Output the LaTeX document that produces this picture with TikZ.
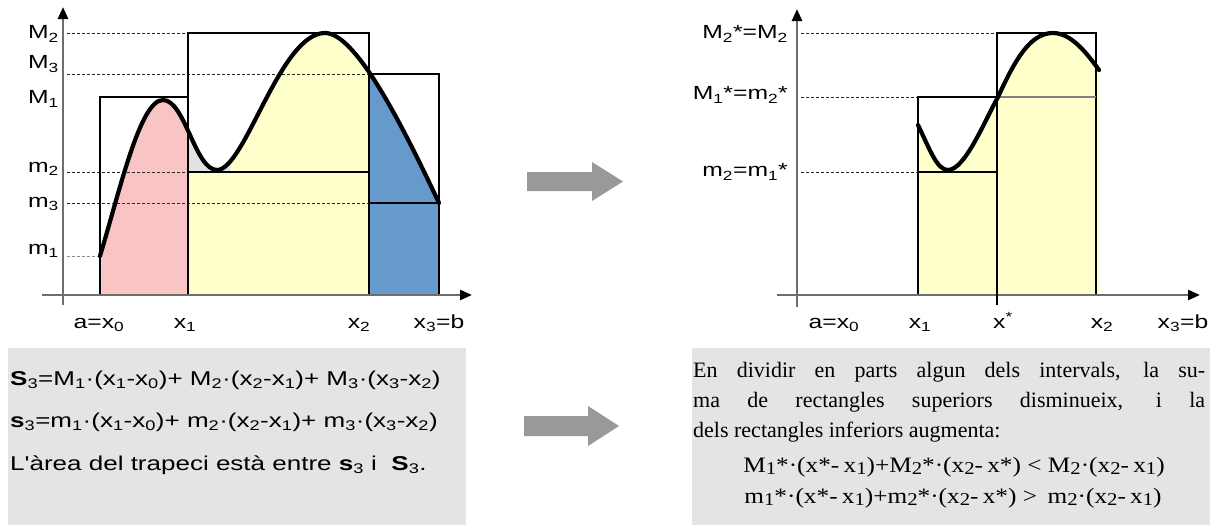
\documentclass[tikz,border=0pt]{standalone}
\usepackage{fontspec}
\setmainfont{Liberation Serif}
\newfontfamily\labfont[FakeStretch=1.3]{Liberation Sans}
\newfontfamily\txtfont{Liberation Serif}
\usetikzlibrary{arrows.meta}
\definecolor{pinkf}{HTML}{F8C4C4}
\definecolor{yellowf}{HTML}{FFFFCC}
\definecolor{bluef}{HTML}{6699CC}
\definecolor{grayf}{HTML}{E2E2E2}
\definecolor{boxf}{HTML}{E4E4E4}
\definecolor{arrowc}{HTML}{999999}
\definecolor{axisc}{HTML}{6E6E6E}
\def\leftcurve{(100,256) .. controls (120,190) and (140,100) .. (163,100) .. controls (185,100) and (195,170) .. (217,170) .. controls (245,170) and (280,33) .. (325,33) .. controls (355,33) and (400,120) .. (439,203)}
\def\rightcurve{(918,125) .. controls (930,150) and (937,170) .. (948,170) .. controls (965,170) and (985,120) .. (998,97) .. controls (1015,60) and (1030,33) .. (1053,33) .. controls (1072,33) and (1088,55) .. (1099,70)}
\newcommand\lowsub[1]{\raisebox{-0.25ex}{\fontsize{18}{20}\selectfont #1}}
\tikzset{
  axis/.style={draw=axisc, line width=2.6pt, -{Triangle[length=12pt,width=10pt,color=black]}},
  rectline/.style={draw=black, line width=1.8pt},
  dashline/.style={draw=black!85, line width=1pt, dash pattern=on 3pt off 2pt},
  curve/.style={draw=black, line width=4.2pt, line cap=round},
  lab/.style={font=\labfont\fontsize{19}{22}\selectfont, inner sep=0pt},
  boxtext/.style={font=\labfont\fontsize{20}{24}\selectfont, inner sep=0pt, anchor=base west},
  sertext/.style={font=\txtfont\fontsize{22}{26}\selectfont, inner sep=0pt},
  bigarrow/.style={fill=arrowc}
}
\begin{document}
\begin{tikzpicture}[x=1pt,y=-1pt]
\useasboundingbox (0,0) rectangle (1210,525);
% ---------- left plot ----------
\begin{scope}
  \clip (100,0) rectangle (188,295);
  \fill[pinkf] \leftcurve -- (439,295) -- (100,295) -- cycle;
\end{scope}
\begin{scope}
  \clip (188,0) rectangle (369,295);
  \fill[yellowf] \leftcurve -- (439,295) -- (100,295) -- cycle;
\end{scope}
\begin{scope}
  \clip (188,140) rectangle (230,172);
  \fill[grayf] \leftcurve -- (439,295) -- (100,295) -- cycle;
\end{scope}
\begin{scope}
  \clip (369,0) rectangle (439,295);
  \fill[bluef] \leftcurve -- (439,295) -- (100,295) -- cycle;
\end{scope}
% dashed guide lines
\draw[dashline] (67,33) -- (188,33);
\draw[dashline] (67,74) -- (369,74);
\draw[dashline] (67,172) -- (188,172);
\draw[dashline] (67,203) -- (369,203);
\draw[dashline, draw=black!45] (67,256) -- (100,256);
% rectangles
\draw[rectline] (100,295) rectangle (188,97);
\draw[rectline] (188,295) rectangle (369,33);
\draw[rectline] (369,295) rectangle (439,74);
\draw[rectline] (188,172) -- (369,172);
\draw[rectline] (369,203) -- (439,203);
% axes
\draw[axis] (42,295) -- (472,295);
\draw[axis] (63,305) -- (63,7);
% curve
\draw[curve] \leftcurve;
% labels
\node[lab, anchor=east] (lM2) at (59,34) {M\textsubscript{2}};
\node[lab, anchor=east] (lM3) at (59,64) {M\textsubscript{3}};
\node[lab, anchor=east] (lM1) at (59,99) {M\textsubscript{1}};
\node[lab, anchor=east] (lm2) at (59,169) {m\textsubscript{2}};
\node[lab, anchor=east] (lm3) at (59,204) {m\textsubscript{3}};
\node[lab, anchor=east] (lm1) at (59,251) {m\textsubscript{1}};
\node[lab, anchor=base] (lx0) at (99,328) {a=x\textsubscript{0}};
\node[lab, anchor=base] (lx1) at (185,328) {x\textsubscript{1}};
\node[lab, anchor=base] (lx2) at (359,328) {x\textsubscript{2}};
\node[lab, anchor=base] (lx3) at (439,328) {x\textsubscript{3}=b};
% ---------- right plot ----------
\fill[yellowf] \rightcurve -- (1099,295) -- (918,295) -- cycle;
\draw[dashline] (801,33) -- (997,33);
\draw[dashline] (801,97) -- (918,97);
\draw[dashline] (801,172) -- (918,172);
\draw[rectline] (918,295) rectangle (997,97);
\draw[rectline] (997,295) rectangle (1096,33);
\draw[rectline] (918,172) -- (997,172);
\draw[draw=black!50, line width=1.6pt] (997,97) -- (1096,97);
\draw[axis] (777,295) -- (1200,295);
\draw[axis] (797,307) -- (797,9);
\draw[black, line width=1.8pt] (997,288) -- (997,305);
\draw[curve] \rightcurve;
\node[lab, anchor=east] (rM2) at (788,34) {M\textsubscript{2}*=M\textsubscript{2}};
\node[lab, anchor=east] (rM1) at (788,95) {M\textsubscript{1}*=m\textsubscript{2}*};
\node[lab, anchor=east] (rm2) at (788,172) {m\textsubscript{2}=m\textsubscript{1}*};
\node[lab, anchor=base] (rx0) at (834,328) {a=x\textsubscript{0}};
\node[lab, anchor=base] (rx1) at (920,328) {x\textsubscript{1}};
\node[lab, anchor=base] (rxs) at (1003,328) {x\textsuperscript{*}};
\node[lab, anchor=base] (rx2) at (1102,328) {x\textsubscript{2}};
\node[lab, anchor=base] (rx3) at (1183,328) {x\textsubscript{3}=b};
% ---------- big arrows ----------
\fill[bigarrow] (527,172) -- (592,172) -- (592,162) -- (623,181.5) -- (592,201) -- (592,191) -- (527,191) -- cycle;
\fill[bigarrow] (524,416) -- (588,416) -- (588,406) -- (619,426) -- (588,446) -- (588,436) -- (524,436) -- cycle;
% ---------- text boxes ----------
\fill[boxf] (8,348) rectangle (466,525);
\node[boxtext] (t1) at (10,385) {\textbf{S}\textsubscript{3}=M\textsubscript{1}·(x\textsubscript{1}-x\textsubscript{0})+ M\textsubscript{2}·(x\textsubscript{2}-x\textsubscript{1})+ M\textsubscript{3}·(x\textsubscript{3}-x\textsubscript{2})};
\node[boxtext] (t2) at (10,427) {\textbf{s}\textsubscript{3}=m\textsubscript{1}·(x\textsubscript{1}-x\textsubscript{0})+ m\textsubscript{2}·(x\textsubscript{2}-x\textsubscript{1})+ m\textsubscript{3}·(x\textsubscript{3}-x\textsubscript{2})};
\node[boxtext] (t3) at (10,470) {L'àrea del trapeci està entre \textbf{s}\textsubscript{3} i \ \textbf{S}\textsubscript{3}.};
\fill[boxf] (692,348) rectangle (1210,525);
\node[sertext, anchor=base west] (p1) at (693,377) {\makebox[512pt][s]{En dividir en parts algun dels intervals, la su-}};
\node[sertext, anchor=base west] (p2) at (693,407) {\makebox[512pt][s]{ma de rectangles superiors disminueix, i la}};
\node[sertext, anchor=base west] (p3) at (693,437) {dels rectangles inferiors augmenta:};
\node[sertext, anchor=base] (f1) at (954,472) {\scalebox{1.15}[1]{M\lowsub{1}*·(x*-\,x\lowsub{1})+M\lowsub{2}*·(x\lowsub{2}-\,x*) < M\lowsub{2}·(x\lowsub{2}-\,x\lowsub{1})}};
\node[sertext, anchor=base] (f2) at (953,503) {\scalebox{1.15}[1]{m\lowsub{1}*·(x*-\,x\lowsub{1})+m\lowsub{2}*·(x\lowsub{2}-\,x*) > \,m\lowsub{2}·(x\lowsub{2}-\,x\lowsub{1})}};
\end{tikzpicture}
\end{document}
